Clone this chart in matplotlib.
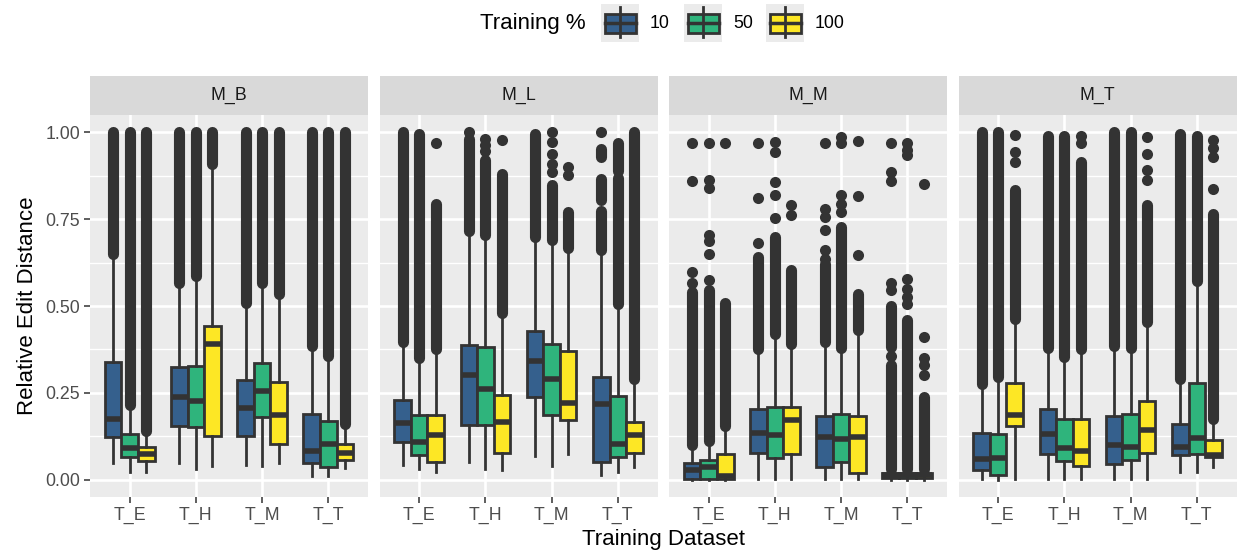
import matplotlib
matplotlib.use("Agg")
import matplotlib.pyplot as plt
from matplotlib.patches import Rectangle

plt.rcParams["font.family"] = ["Liberation Sans", "DejaVu Sans"]

facets = ["M_B", "M_L", "M_M", "M_T"]
datasets = ["T_E", "T_H", "T_M", "T_T"]
train_pct = ["10", "50", "100"]
fills = ["#35608D", "#2FB47C", "#FDE725"]

# box statistics, indexed [facet][dataset][training %]
whislo = [
    [[0.047, 0.022, 0.021], [0.047, 0.030, 0.040], [0.042, 0.039, 0.047], [0.010, 0.010, 0.034]],
    [[0.042, 0.032, 0.022], [0.051, 0.032, 0.027], [0.068, 0.039, 0.075], [0.013, 0.021, 0.037]],
    [[0.000, 0.000, 0.000], [0.003, 0.003, 0.003], [0.003, 0.003, 0.003], [0.000, 0.000, 0.000]],
    [[0.003, 0.000, 0.003], [0.003, 0.003, 0.003], [0.003, 0.003, 0.003], [0.022, 0.022, 0.037]],
]
q1 = [
    [[0.123, 0.066, 0.053], [0.155, 0.152, 0.127], [0.125, 0.181, 0.104], [0.048, 0.037, 0.056]],
    [[0.107, 0.072, 0.051], [0.157, 0.157, 0.078], [0.238, 0.186, 0.171], [0.051, 0.066, 0.078]],
    [[0.003, 0.003, 0.003], [0.077, 0.061, 0.073], [0.035, 0.051, 0.020], [0.006, 0.006, 0.006]],
    [[0.029, 0.013, 0.155], [0.075, 0.053, 0.039], [0.044, 0.056, 0.077], [0.070, 0.073, 0.066]],
]
med = [
    [[0.174, 0.092, 0.073], [0.237, 0.227, 0.390], [0.207, 0.255, 0.186], [0.082, 0.104, 0.076]],
    [[0.163, 0.107, 0.128], [0.300, 0.261, 0.166], [0.342, 0.289, 0.221], [0.217, 0.104, 0.128]],
    [[0.027, 0.035, 0.010], [0.135, 0.128, 0.171], [0.123, 0.118, 0.123], [0.012, 0.012, 0.012]],
    [[0.058, 0.061, 0.186], [0.130, 0.090, 0.083], [0.099, 0.094, 0.142], [0.094, 0.119, 0.070]],
]
q3 = [
    [[0.339, 0.131, 0.093], [0.323, 0.327, 0.443], [0.286, 0.337, 0.280], [0.190, 0.168, 0.104]],
    [[0.229, 0.186, 0.186], [0.387, 0.382, 0.243], [0.428, 0.392, 0.371], [0.296, 0.241, 0.166]],
    [[0.048, 0.056, 0.073], [0.202, 0.208, 0.208], [0.183, 0.188, 0.183], [0.018, 0.018, 0.018]],
    [[0.133, 0.130, 0.277], [0.202, 0.176, 0.176], [0.183, 0.190, 0.226], [0.159, 0.277, 0.114]],
]
whishi = [
    [[0.646, 0.210, 0.133], [0.560, 0.580, 0.905], [0.507, 0.560, 0.531], [0.382, 0.349, 0.157]],
    [[0.392, 0.344, 0.371], [0.713, 0.704, 0.478], [0.699, 0.689, 0.665], [0.656, 0.502, 0.286]],
    [[0.094, 0.109, 0.152], [0.373, 0.416, 0.387], [0.392, 0.378, 0.430], [0.030, 0.030, 0.030]],
    [[0.272, 0.291, 0.460], [0.378, 0.349, 0.373], [0.382, 0.378, 0.450], [0.286, 0.569, 0.171]],
]

# runs of overlapping outliers (lo, hi)
outlier_runs = [
    [[[(0.65, 1.0)], [(0.215, 1.0)], [(0.14, 1.0)]],
     [[(0.565, 1.0)], [(0.585, 1.0)], [(0.91, 1.0)]],
     [[(0.51, 1.0)], [(0.565, 1.0)], [(0.535, 1.0)]],
     [[(0.385, 1.0)], [(0.355, 1.0)], [(0.16, 1.0)]]],
    [[[(0.395, 1.0)], [(0.35, 0.995)], [(0.375, 0.795)]],
     [[(0.715, 0.982)], [(0.705, 0.92)], [(0.48, 0.88)]],
     [[(0.70, 0.996)], [(0.69, 0.847)], [(0.668, 0.771)]],
     [[(0.66, 0.775), (0.805, 0.865), (0.93, 0.953)], [(0.505, 0.87), (0.89, 0.97)], [(0.29, 1.0)]]],
    [[[(0.10, 0.54)], [(0.11, 0.545)], [(0.155, 0.51)]],
     [[(0.375, 0.64)], [(0.42, 0.70)], [(0.39, 0.603)]],
     [[(0.395, 0.62)], [(0.38, 0.727)], [(0.432, 0.535)]],
     [[(0.032, 0.33), (0.382, 0.50)], [(0.032, 0.46)], [(0.032, 0.238)]]],
    [[[(0.275, 1.0)], [(0.295, 1.0)], [(0.463, 0.833)]],
     [[(0.38, 0.99)], [(0.352, 0.99)], [(0.376, 0.915)]],
     [[(0.385, 1.0)], [(0.38, 1.0)], [(0.453, 0.79)]],
     [[(0.29, 0.995)], [(0.572, 0.99)], [(0.174, 0.766)]]],
]

# isolated outliers
outlier_pts = [
    [[[], [], []], [[], [], []], [[], [], []], [[], [], []]],
    [[[], [], [0.97]],
     [[1.0], [0.98, 0.965, 0.945], [0.977]],
     [[], [1.0, 0.972, 0.939, 0.91, 0.886], [0.90, 0.876]],
     [[1.0], [], []]],
    [[[0.968, 0.859, 0.598, 0.567], [0.968, 0.862, 0.84, 0.704, 0.686, 0.651, 0.574], [0.968]],
     [[0.97, 0.812, 0.68], [0.972, 0.943, 0.857, 0.819, 0.752], [0.79, 0.761]],
     [[0.97, 0.78, 0.755, 0.718, 0.66, 0.635], [0.987, 0.968, 0.819, 0.795, 0.771], [0.974, 0.816, 0.646]],
     [[0.968, 0.886, 0.86, 0.565, 0.545, 0.355], [0.968, 0.95, 0.934, 0.579, 0.55, 0.526, 0.507],
      [0.852, 0.411, 0.349, 0.33, 0.30]]],
    [[[], [], [0.991, 0.943, 0.915]],
     [[], [], [0.99, 0.968]],
     [[], [], [0.986, 0.939, 0.891, 0.862]],
     [[], [], [0.977, 0.955, 0.93, 0.836]]],
]

W, H = 1238, 559
fig = plt.figure(figsize=(W / 100, H / 100), dpi=100)
fig.patch.set_facecolor("white")

ink = "#333333"
panel_left = [90, 379.5, 669, 958.5]
pw = 278
p_top, p_bot, s_top = 115, 497, 76
offsets = [-0.25, 0.0, 0.25]

for f, name in enumerate(facets):
    ax = fig.add_axes([panel_left[f] / W, 1 - p_bot / H, pw / W, (p_bot - p_top) / H])
    ax.set_facecolor("#EBEBEB")
    ax.set_xlim(0.4, 4.6)
    ax.set_ylim(-0.05, 1.05)
    ax.set_xticks(range(1, 5))
    ax.set_xticklabels(datasets)
    ax.set_yticks([0, 0.25, 0.5, 0.75, 1.0])
    ax.set_yticklabels(["0.00", "0.25", "0.50", "0.75", "1.00"])
    ax.set_yticks([0.125, 0.375, 0.625, 0.875], minor=True)
    ax.grid(which="major", color="white", lw=1.9)
    ax.grid(which="minor", axis="y", color="white", lw=0.95)
    ax.set_axisbelow(True)
    for s in ax.spines.values():
        s.set_visible(False)
    ax.tick_params(which="major", length=4, width=1.1, color=ink,
                   labelsize=12.8, labelcolor="#4D4D4D", pad=3)
    ax.tick_params(which="minor", length=0)
    if f > 0:
        ax.tick_params(axis="y", left=False, labelleft=False)

    stats, pos, cols = [], [], []
    for d in range(4):
        for g in range(3):
            x = d + 1 + offsets[g]
            for lo, hi in outlier_runs[f][d][g]:
                ax.vlines(x, lo, hi, colors=ink, lw=8, capstyle="round", zorder=2)
            pts = outlier_pts[f][d][g]
            if pts:
                ax.plot([x] * len(pts), pts, "o", ms=8, color=ink, mew=0, zorder=2)
            stats.append(dict(whislo=whislo[f][d][g], q1=q1[f][d][g], med=med[f][d][g],
                              q3=q3[f][d][g], whishi=whishi[f][d][g], fliers=[]))
            pos.append(x)
            cols.append(fills[g])

    bp = ax.bxp(stats, positions=pos, widths=0.25, patch_artist=True,
                showcaps=False, showfliers=False, manage_ticks=False,
                boxprops=dict(edgecolor=ink, lw=2),
                whiskerprops=dict(color=ink, lw=2),
                medianprops=dict(color=ink, lw=4, solid_capstyle="butt"),
                zorder=3)
    for patch, c in zip(bp["boxes"], cols):
        patch.set_facecolor(c)

    sax = fig.add_axes([panel_left[f] / W, 1 - p_top / H, pw / W, (p_top - s_top) / H])
    sax.set_facecolor("#D9D9D9")
    sax.set_xticks([])
    sax.set_yticks([])
    for s in sax.spines.values():
        s.set_visible(False)
    sax.text(0.5, 0.5, name, ha="center", va="center", fontsize=12.8, color="#1A1A1A")

fig.text(663 / W, 1 - 540 / H, "Training Dataset", ha="center", va="center", fontsize=16)
fig.text(28 / W, 1 - 306 / H, "Relative Edit Distance", ha="center", va="center",
         rotation=90, fontsize=16)

# legend drawn on an overlay in pixel units
lax = fig.add_axes([0, 0, 1, 1])
lax.set_xlim(0, W)
lax.set_ylim(H, 0)
lax.axis("off")
lax.text(480, 23, "Training %", ha="left", va="center", fontsize=16)
key_x = [601, 684, 766]
for kx, c, lab in zip(key_x, fills, train_pct):
    lax.add_patch(Rectangle((kx, 4), 38, 38, facecolor="#EBEBEB", edgecolor="none"))
    lax.plot([kx + 19, kx + 19], [7, 37], color=ink, lw=2)
    lax.add_patch(Rectangle((kx + 3.5, 13.5), 31, 19, facecolor=c, edgecolor=ink, lw=2))
    lax.plot([kx + 3.5, kx + 34.5], [23, 23], color=ink, lw=2.5)
    lax.text(kx + 49, 23, lab, ha="left", va="center", fontsize=12.8)

fig.savefig("out.png", dpi=100)
